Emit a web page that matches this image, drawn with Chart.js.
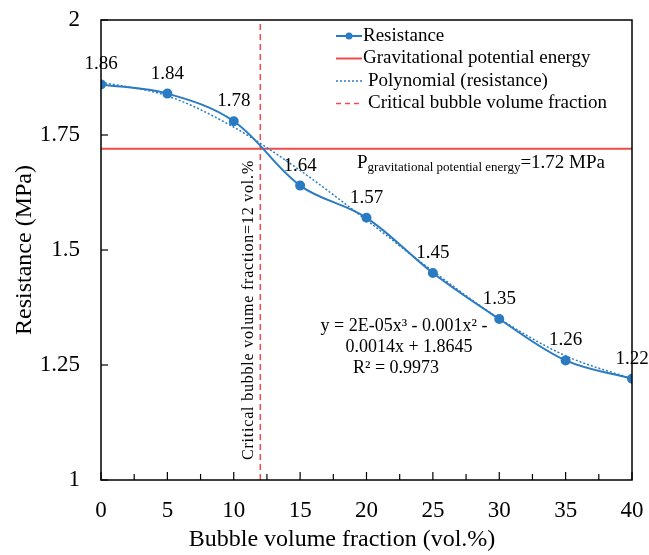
<!DOCTYPE html>
<html>
<head>
<meta charset="utf-8">
<script src="https://cdn.jsdelivr.net/npm/chart.js@4.4.0/dist/chart.umd.min.js"></script>
<style>
  html, body { margin: 0; padding: 0; background: #fff; }
  #wrap { width: 649px; height: 555px; }
</style>
</head>
<body>
<div id="wrap"><canvas id="chart"></canvas></div>
<script>
// bubble volume fraction (vol.%) and measured resistance (MPa)
const fractions = [0, 5, 10, 15, 20, 25, 30, 35, 40];
const resistance = [1.86, 1.84, 1.78, 1.64, 1.57, 1.45, 1.35, 1.26, 1.22];
// cubic trendline values at the same fractions
const trendValues = [1.865, 1.835, 1.767, 1.673, 1.565, 1.454, 1.351, 1.270, 1.220];
const gravitationalEnergy = 1.72;
const criticalFraction = 12;
const yTicks = [1, 1.25, 1.5, 1.75, 2];

const serif = '"Liberation Serif", "Times New Roman", serif';
const blue = '#2B7BC3';
const red = '#EE4B4B';

const pts = (xs, ys) => xs.map((x, i) => ({x: x, y: ys[i]}));

// black frame round the plot, inward tick marks, point labels and text notes
const extras = {
  id: 'extras',
  afterDatasetsDraw(chart) {
    const ctx = chart.ctx;
    const a = chart.chartArea;
    const xs = chart.scales.x, ys = chart.scales.y;
    ctx.save();
    ctx.strokeStyle = '#000';
    ctx.lineWidth = 1.5;
    ctx.strokeRect(a.left, a.top, a.right - a.left, a.bottom - a.top);
    ctx.lineWidth = 1.2;
    xs.ticks.forEach(t => {
      const px = xs.getPixelForValue(t.value);
      const len = t.value % 5 === 0 ? 8 : 6;
      ctx.beginPath(); ctx.moveTo(px, a.bottom); ctx.lineTo(px, a.bottom - len); ctx.stroke();
    });
    ys.ticks.forEach(t => {
      const py = ys.getPixelForValue(t.value);
      ctx.beginPath(); ctx.moveTo(a.left, py); ctx.lineTo(a.left + 7, py); ctx.stroke();
    });

    // x axis title, set a little left of the plot centre
    ctx.fillStyle = '#000';
    ctx.textAlign = 'center';
    ctx.textBaseline = 'middle';
    ctx.font = '24px ' + serif;
    ctx.fillText('Bubble volume fraction (vol.%)', 342, 540);

    // value labels above each resistance point
    ctx.font = '19px ' + serif;
    chart.getDatasetMeta(0).data.forEach((p, i) => {
      ctx.fillText(resistance[i].toFixed(2), p.x, p.y - 20);
    });

    // gravitational energy note under the red line
    const gy = ys.getPixelForValue(gravitationalEnergy);
    let tx = 357;
    ctx.textAlign = 'left';
    ctx.font = '19px ' + serif;
    ctx.fillText('P', tx, gy + 14);
    tx += ctx.measureText('P').width;
    ctx.font = '13px ' + serif;
    ctx.fillText('gravitational potential energy', tx, gy + 19);
    tx += ctx.measureText('gravitational potential energy').width;
    ctx.font = '19px ' + serif;
    ctx.fillText('=' + gravitationalEnergy + ' MPa', tx, gy + 14);

    // trendline equation
    ctx.font = '18px ' + serif;
    ctx.textAlign = 'center';
    ctx.fillText('y = 2E-05x\u00B3 - 0.001x\u00B2 -', 404, 326);
    ctx.fillText('0.0014x + 1.8645', 409, 347);
    ctx.fillText('R\u00B2 = 0.9973', 396, 368);

    // label along the critical fraction line
    const cx = xs.getPixelForValue(criticalFraction);
    ctx.save();
    ctx.translate(cx - 12, 310);
    ctx.rotate(-Math.PI / 2);
    ctx.font = '16px ' + serif;
    ctx.letterSpacing = '0.8px';
    ctx.fillText('Critical bubble volume fraction=' + criticalFraction + ' vol.%', 0, 0);
    ctx.restore();

    // legend in the upper right of the plot
    const items = [
      {text: 'Resistance', color: blue, dash: [], marker: true, tx: 363},
      {text: 'Gravitational potential energy', color: red, dash: [], tx: 363},
      {text: 'Polynomial (resistance)', color: blue, dash: [2, 2], tx: 368},
      {text: 'Critical bubble volume fraction', color: red, dash: [5, 4], tx: 368}
    ];
    ctx.font = '19px ' + serif;
    ctx.textAlign = 'left';
    items.forEach((it, i) => {
      const ly = 36 + i * 22.5;
      ctx.strokeStyle = it.color;
      ctx.lineWidth = it.dash.length ? 1.5 : 2;
      ctx.setLineDash(it.dash);
      ctx.beginPath(); ctx.moveTo(336, ly); ctx.lineTo(362, ly); ctx.stroke();
      ctx.setLineDash([]);
      if (it.marker) {
        ctx.fillStyle = it.color;
        ctx.beginPath(); ctx.arc(349, ly, 3.5, 0, Math.PI * 2); ctx.fill();
      }
      ctx.fillStyle = '#000';
      ctx.fillText(it.text, it.tx, ly);
    });
    ctx.restore();
  }
};

new Chart(document.getElementById('chart'), {
  type: 'line',
  data: {
    datasets: [
      {
        label: 'Resistance',
        data: pts(fractions, resistance),
        borderColor: blue,
        backgroundColor: blue,
        borderWidth: 2,
        pointRadius: 4,
        pointHoverRadius: 4,
        tension: 0.35,
        order: 1
      },
      {
        label: 'Gravitational potential energy',
        data: pts([0, 40], [gravitationalEnergy, gravitationalEnergy]),
        borderColor: red,
        borderWidth: 2,
        pointRadius: 0,
        order: 3
      },
      {
        label: 'Polynomial (resistance)',
        data: pts(fractions, trendValues),
        borderColor: blue,
        borderWidth: 1.5,
        borderDash: [2, 2],
        pointRadius: 0,
        cubicInterpolationMode: 'monotone',
        order: 2
      },
      {
        label: 'Critical bubble volume fraction',
        data: pts([criticalFraction, criticalFraction], [1, 2]),
        borderColor: red,
        borderWidth: 1.5,
        borderDash: [6, 4],
        pointRadius: 0,
        order: 4
      }
    ]
  },
  options: {
    responsive: true,
    maintainAspectRatio: false,
    animation: false,
    layout: {padding: {top: 20, right: 17, left: 0, bottom: 0}},
    plugins: {legend: {display: false}, tooltip: {enabled: false}},
    scales: {
      x: {
        type: 'linear',
        min: 0,
        max: 40,
        grid: {display: false, drawTicks: false},
        border: {display: false},
        ticks: {
          stepSize: 2.5,
          autoSkip: false,
          maxRotation: 0,
          padding: 17,
          color: '#000',
          font: {family: serif, size: 23},
          callback: v => v % 5 === 0 ? String(v) : ''
        },
        afterFit: s => { s.height = 75; s.paddingLeft = 0; s.paddingRight = 0; }
      },
      y: {
        min: 1,
        max: 2,
        afterBuildTicks: s => { s.ticks = yTicks.map(v => ({value: v})); },
        grid: {display: false, drawTicks: false},
        border: {display: false},
        ticks: {
          padding: 21,
          color: '#000',
          font: {family: serif, size: 23},
          callback: v => String(v)
        },
        title: {
          display: true,
          text: 'Resistance (MPa)',
          color: '#000',
          font: {family: serif, size: 24},
          padding: {top: 10, bottom: 0}
        },
        afterFit: s => { s.width = 101; s.paddingTop = 0; s.paddingBottom = 0; }
      }
    }
  },
  plugins: [extras]
});
</script>
</body>
</html>
